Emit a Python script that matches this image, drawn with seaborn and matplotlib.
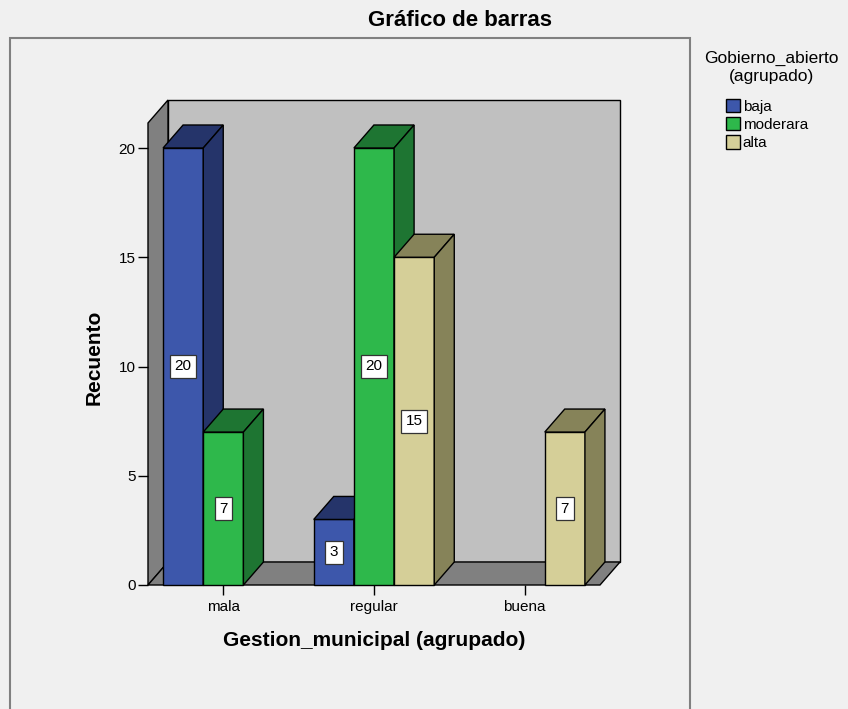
import matplotlib
matplotlib.use("Agg")
import matplotlib.pyplot as plt
from matplotlib.patches import Polygon, Rectangle, Patch
import seaborn as sns
import pandas as pd

# ---- data ----
categories = ["mala", "regular", "buena"]
groups = ["baja", "moderara", "alta"]
baja = [20, 3, 0]
moderara = [7, 20, 0]
alta = [0, 15, 7]
yticks = [0, 5, 10, 15, 20]

title = "Gráfico de barras"
xlabel = "Gestion_municipal (agrupado)"
ylabel = "Recuento"
legend_title = ["Gobierno_abierto", "(agrupado)"]

front_colors = {"baja": "#3D57AB", "moderara": "#2EB84B", "alta": "#D5CF98"}
dark_colors = {"baja": "#25346A", "moderara": "#1E7532", "alta": "#868359"}

plt.rcParams["font.family"] = ["Liberation Sans", "DejaVu Sans"]

rows = []
for g, vals in zip(groups, [baja, moderara, alta]):
    for c, v in zip(categories, vals):
        rows.append({"Gestion": c, "Gobierno": g, "Recuento": v})
df = pd.DataFrame(rows)

W, H = 848, 709
fig = plt.figure(figsize=(W / 100, H / 100), dpi=100, facecolor="#F0F0F0")

# axes = front plane of the 3D box
X0, X1, Y0, Y20, YT = 148, 600, 585, 148, 123
ax = fig.add_axes([X0 / W, 1 - Y0 / H, (X1 - X0) / W, (Y0 - YT) / H])
YTOP = 20 * (Y0 - YT) / (Y0 - Y20)

sns.barplot(data=df, x="Gestion", y="Recuento", hue="Gobierno",
            order=categories, hue_order=groups, palette=front_colors,
            saturation=1, errorbar=None, width=0.8, edgecolor="black",
            linewidth=1, legend=False, ax=ax)
bars = [p for p in ax.patches if isinstance(p, Rectangle)]

ax.set_xlim(-0.5, 2.5)
ax.set_ylim(0, YTOP)
ax.set_facecolor("none")
for s in ax.spines.values():
    s.set_visible(False)

DXP, DYP = 20, 23
dx = DXP * 3 / (X1 - X0)
dy = DYP * YTOP / (Y0 - YT)

# walls and floor
ax.add_patch(Polygon([(-0.5 + dx, dy), (2.5 + dx, dy), (2.5 + dx, YTOP + dy), (-0.5 + dx, YTOP + dy)],
                     closed=True, fc="#C0C0C0", ec="black", lw=1, clip_on=False, zorder=0.2))
ax.add_patch(Polygon([(-0.5, 0), (-0.5 + dx, dy), (-0.5 + dx, YTOP + dy), (-0.5, YTOP)],
                     closed=True, fc="#808080", ec="black", lw=1, clip_on=False, zorder=0.3))
ax.add_patch(Polygon([(-0.5, 0), (2.5, 0), (2.5 + dx, dy), (-0.5 + dx, dy)],
                     closed=True, fc="#808080", ec="black", lw=1, clip_on=False, zorder=0.4))

# 3D faces, drawn left to right
inv = {matplotlib.colors.to_hex(v): k for k, v in front_colors.items()}
bars_sorted = sorted(bars, key=lambda p: p.get_x())
z = 1
for p in bars_sorted:
    h = p.get_height()
    x0, w = p.get_x(), p.get_width()
    if h == 0:
        p.set_visible(False)
        continue
    key = inv.get(matplotlib.colors.to_hex(p.get_facecolor()), "baja")
    dc = dark_colors[key]
    p.set_zorder(z)
    p.set_clip_on(False)
    ax.add_patch(Polygon([(x0, h), (x0 + w, h), (x0 + w + dx, h + dy), (x0 + dx, h + dy)],
                         closed=True, fc=dc, ec="black", lw=1, clip_on=False, zorder=z + 0.1))
    ax.add_patch(Polygon([(x0 + w, 0), (x0 + w + dx, dy), (x0 + w + dx, h + dy), (x0 + w, h)],
                         closed=True, fc=dc, ec="black", lw=1, clip_on=False, zorder=z + 0.2))
    ax.text(x0 + w / 2, h / 2, f"{int(h)}", ha="center", va="center", fontsize=11,
            zorder=100, bbox=dict(boxstyle="square,pad=0.3", fc="white", ec="#333333", lw=0.9))
    z += 1

ax.set_yticks(yticks)
ax.set_xticks(range(len(categories)))
ax.set_xticklabels(categories)
ax.tick_params(axis="y", length=7, width=1, pad=2, labelsize=11, colors="black")
ax.tick_params(axis="x", length=7, width=1, pad=4, labelsize=11, colors="black")
ax.set_xlabel("")
ax.set_ylabel("")

def px(x, y):
    return x / W, 1 - y / H

fig.text(*px(460, 20), title, ha="center", va="center", fontsize=16, fontweight="bold")
fig.text(*px(374, 641), xlabel, ha="center", va="center", fontsize=15, fontweight="bold")
fig.text(*px(94, 357), ylabel, ha="center", va="center", fontsize=15, fontweight="bold", rotation=90)

# outer frame
fig.add_artist(Rectangle((10 / W, -0.05), (690 - 10) / W, 1 - 38 / H + 0.05,
                         transform=fig.transFigure, fill=False, ec="#808080", lw=1.5))

# legend
fig.text(*px(771, 58), legend_title[0], ha="center", va="center", fontsize=12.5)
fig.text(*px(771, 77), legend_title[1], ha="center", va="center", fontsize=12.5)
handles = [Patch(fc=front_colors[g], ec="black", lw=1) for g in groups]
fig.legend(handles, groups, loc="upper left", bbox_to_anchor=px(726, 99), frameon=False,
           fontsize=11, handlelength=0.9, handleheight=0.95, handletextpad=0.2,
           labelspacing=0.22, borderpad=0, borderaxespad=0)

fig.savefig("out.png", dpi=100, facecolor=fig.get_facecolor())
